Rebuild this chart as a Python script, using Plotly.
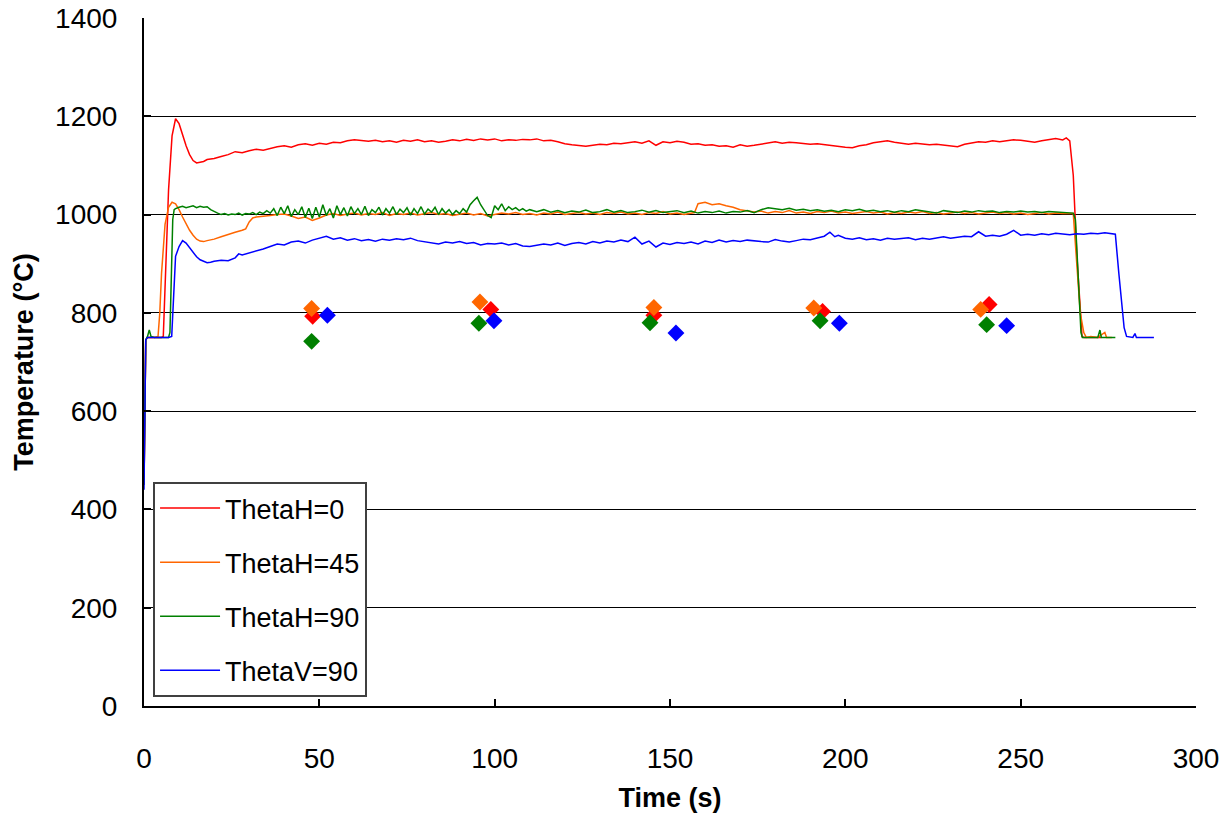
import plotly.graph_objects as go

# ---------------- data ----------------
red_t = [0, 0.5, 1, 3, 5, 5.5, 6, 7, 8, 9, 10, 11, 12, 13, 14, 15, 16, 17, 18, 20, 22, 24, 26, 28, 30,
         32, 34, 36, 38, 40, 42, 44, 46, 48, 50, 52, 54, 56, 58, 60, 62, 64, 66, 68, 70, 72, 74, 76, 78, 80,
         82, 84, 86, 88, 90, 92, 94, 96, 98, 100, 102, 104, 106, 108, 110, 112, 114, 116, 118, 120, 122, 124,
         126, 128, 130, 132, 134, 136, 138, 140, 142, 144, 146, 148, 150, 152, 154, 156, 158, 160, 162, 164,
         166, 168, 170, 172, 174, 176, 178, 180, 182, 184, 186, 188, 190, 192, 194, 196, 198, 200, 202, 204,
         206, 208, 210, 212, 214, 216, 218, 220, 222, 224, 226, 228, 230, 232, 234, 236, 238, 240, 242, 244,
         246, 248, 250, 252, 254, 256, 258, 260, 262, 263, 264, 265, 266, 267, 267.5, 268, 270, 273]
red_T = [450, 745, 750, 750, 750, 752, 850, 1050, 1160, 1195, 1185, 1160, 1140, 1122, 1110, 1105, 1106, 1108, 1112, 1114, 1118, 1122, 1128, 1126, 1130,
         1133, 1131, 1135, 1138, 1140, 1137, 1142, 1144, 1141, 1145, 1143, 1147, 1146, 1150, 1152, 1150, 1149, 1151, 1148, 1150, 1147, 1151, 1149, 1152, 1148,
         1150, 1147, 1149, 1152, 1150, 1153, 1151, 1154, 1152, 1154, 1150, 1152, 1151, 1153, 1152, 1154, 1150, 1151, 1148, 1144, 1142, 1140,
         1139, 1141, 1143, 1142, 1145, 1144, 1146, 1148, 1145, 1150, 1141, 1148, 1146, 1149, 1147, 1143, 1144, 1141, 1142, 1139,
         1140, 1137, 1142, 1139, 1141, 1143, 1145, 1148, 1145, 1147, 1146, 1145, 1143, 1144, 1142, 1140, 1138, 1137, 1136, 1140,
         1142, 1146, 1148, 1150, 1147, 1145, 1143, 1145, 1144, 1142, 1143, 1141, 1139, 1138, 1143, 1146, 1148, 1147, 1150, 1148,
         1150, 1152, 1151, 1149, 1147, 1150, 1153, 1155, 1152, 1156, 1150, 1080, 920, 790, 752, 750, 750, 750]

orange_t = [0, 0.5, 1, 3, 4, 4.5, 5, 6, 7, 8, 9, 10, 11, 12, 13, 14, 15, 16, 17, 18, 20, 22, 24, 26, 28, 29, 30, 31,
            32, 34, 36, 38, 40, 42, 44, 46, 48, 50, 52, 54, 56, 58, 60, 62, 64, 66, 68, 70, 72, 74, 76, 78, 80,
            82, 84, 86, 88, 90, 92, 94, 96, 98, 100, 102, 104, 106, 108, 110, 112, 114, 116, 118, 120, 122, 124,
            126, 128, 130, 132, 134, 136, 138, 140, 142, 144, 146, 148, 150, 152, 154, 156, 157, 158, 160, 162, 164,
            166, 168, 170, 172, 174, 176, 178, 180, 182, 184, 186, 188, 190, 192, 194, 196, 198, 200, 202, 204,
            206, 208, 210, 212, 214, 216, 218, 220, 222, 224, 226, 228, 230, 232, 234, 236, 238, 240, 242, 244,
            246, 248, 250, 252, 254, 256, 258, 260, 262, 264, 265, 266, 267, 268, 268.7, 270, 272, 274, 274.5, 276]
orange_T = [450, 745, 750, 750, 752, 800, 880, 980, 1015, 1025, 1022, 1010, 995, 980, 968, 958, 950, 946, 945, 947, 950, 955, 960, 964, 968, 971, 985, 993,
            995, 996, 998, 1000, 1001, 997, 992, 995, 988, 993, 999, 1002, 998, 1001, 1003, 999, 1002, 1000, 1004, 998, 1002, 1000, 1003, 999, 1001,
            1004, 1000, 1002, 998, 1001, 1003, 999, 1002, 997, 1000, 1003, 1001, 1004, 1000, 1002, 999, 1003, 1001, 1005, 1000, 1002, 1004,
            1001, 1003, 1000, 1004, 1002, 1005, 1001, 1003, 1000, 1004, 1002, 1006, 1001, 1003, 1000, 1002, 1004, 1022, 1025, 1020, 1022,
            1018, 1015, 1010, 1008, 1005, 1007, 1003, 1006, 1004, 1008, 1003, 1005, 1002, 1006, 1004, 1007, 1003, 1005, 1002, 1004,
            1006, 1003, 1005, 1001, 1004, 1002, 1005, 1003, 1006, 1002, 1004, 1001, 1003, 1005, 1002, 1004, 1001, 1003, 1005, 1002,
            1004, 1001, 1003, 1000, 1002, 1004, 1001, 1003, 1002, 1003, 1002, 900, 800, 760, 750, 752, 750, 760, 750, 750]

green_t = [0, 0.5, 1, 1.5, 2, 3, 5, 7, 7.4, 7.8, 8.2, 8.6, 9, 10, 11, 12, 13, 14, 15, 16, 17, 18, 19, 20, 21, 22, 23, 24,
           25, 26, 27, 28, 29, 30, 31, 32, 33, 34, 35, 36, 37, 38, 39, 40, 41, 42, 43, 44, 45, 46, 47, 48, 49, 50,
           51, 52, 53, 54, 55, 56, 57, 58, 59, 60, 61, 62, 63, 64, 65, 66, 67, 68, 69, 70, 71, 72, 73, 74, 75, 76,
           77, 78, 79, 80, 81, 82, 83, 84, 85, 86, 87, 88, 89, 90, 91, 92, 93, 94, 95, 96, 97, 98, 99, 100, 101, 102,
           103, 104, 105, 106, 107, 108, 109, 110, 112, 114, 116, 118, 120, 122, 124, 126, 128, 130, 132, 134, 136,
           138, 140, 142, 144, 146, 148, 150, 152, 154, 156, 158, 160, 162, 164, 166, 168, 170, 172, 174, 176, 178,
           180, 182, 184, 186, 188, 190, 192, 194, 196, 198, 200, 202, 204, 206, 208, 210, 212, 214, 216, 218, 220,
           222, 224, 226, 228, 230, 232, 234, 236, 238, 240, 242, 244, 246, 248, 250, 252, 254, 256, 258, 260, 262,
           264, 265, 265.6, 266.5, 267.2, 267.6, 270, 272, 272.6, 273, 277]
green_T = [450, 745, 752, 765, 752, 750, 750, 750, 760, 900, 990, 1010, 1012, 1015, 1017, 1014, 1016, 1018, 1014, 1017, 1015, 1016, 1010, 1006, 1003, 1000, 1002, 999,
           1001, 1000, 1003, 999, 1002, 1001, 1004, 1000, 1005, 1002, 1008, 1003, 1012, 998, 1015, 1002, 1018, 996, 1010, 1000, 1016, 994, 1013, 992, 1015, 995,
           1020, 998, 1012, 993, 1018, 1000, 1014, 997, 1016, 1002, 1012, 1000, 1017, 998, 1010, 1004, 1015, 999, 1012, 1003, 1016, 1000, 1011, 1004, 1014, 999,
           1012, 1002, 1016, 1001, 1011, 1005, 1015, 1000, 1012, 1003, 1010, 1000, 1008, 1002, 1012, 1005, 1020, 1028, 1035, 1020, 1010, 998, 994, 1018, 1010, 1022,
           1008, 1016, 1010, 1014, 1008, 1012, 1007, 1010, 1006, 1010, 1005, 1008, 1004, 1007, 1005, 1009, 1004, 1006, 1010, 1005, 1008,
           1004, 1006, 1009, 1005, 1008, 1004, 1006, 1008, 1004, 1007, 1003, 1006, 1004, 1007, 1003, 1006, 1005, 1008, 1004, 1010, 1014,
           1012, 1010, 1013, 1009, 1011, 1008, 1010, 1007, 1009, 1006, 1010, 1008, 1011, 1007, 1009, 1006, 1008, 1005, 1008, 1006, 1010,
           1008, 1006, 1003, 1008, 1006, 1004, 1007, 1005, 1008, 1006, 1007, 1004, 1006, 1005, 1007, 1005, 1006, 1004, 1006, 1005, 1005,
           1004, 1003, 990, 850, 760, 750, 750, 750, 765, 750, 750]

blue_t = [0, 0.5, 1, 3, 5, 7, 7.9, 8.5, 9, 10, 11, 12, 13, 14, 15, 16, 17, 18, 19, 20, 22, 24, 26, 27, 28, 30,
          32, 34, 36, 38, 40, 42, 44, 46, 48, 50, 52, 54, 56, 58, 60, 62, 64, 66, 68, 70, 72, 74, 76, 78, 80,
          82, 84, 86, 88, 90, 92, 94, 96, 98, 100, 102, 104, 106, 108, 110, 112, 114, 116, 118, 120, 122, 124,
          126, 128, 130, 132, 134, 136, 138, 140, 142, 144, 146, 148, 150, 152, 154, 156, 158, 160, 162, 164,
          166, 168, 170, 172, 174, 176, 178, 180, 182, 184, 186, 188, 190, 192, 194, 195.6, 197, 198, 200, 202, 204,
          206, 208, 210, 212, 214, 216, 218, 220, 222, 224, 226, 228, 230, 232, 234, 236, 238, 240, 242, 244,
          246, 248, 250, 252, 254, 256, 258, 260, 262, 264, 266, 268, 270, 272, 274, 276, 277, 278, 279.5, 280.2,
          282, 282.6, 283, 288]
blue_T = [440, 745, 750, 750, 750, 750, 752, 860, 915, 935, 947, 942, 932, 922, 914, 908, 905, 902, 903, 905, 907, 906, 912, 920, 918, 922,
          925, 930, 935, 940, 938, 944, 946, 942, 948, 952, 956, 950, 953, 948, 951, 947, 949, 946, 950, 948, 951, 949, 952, 947, 945,
          942, 940, 944, 942, 945, 941, 943, 938, 941, 940, 942, 938, 941, 936, 935, 937, 940, 938, 942, 937, 941, 943,
          940, 945, 942, 946, 944, 948, 945, 954, 940, 946, 934, 942, 939, 943, 941, 944, 940, 946, 943, 948,
          944, 947, 945, 948, 946, 945, 944, 949, 946, 944, 947, 950, 949, 952, 956, 964, 955, 958, 952, 950, 953,
          949, 951, 948, 952, 950, 951, 953, 949, 952, 950, 953, 955, 952, 954, 956, 955, 965, 956, 958, 956,
          960, 968, 958, 960, 958, 961, 959, 962, 960, 959, 961, 960, 962, 961, 963, 962, 960, 880, 770, 752,
          750, 758, 750, 750]

# point measurements (diamonds)
red_mk_t = [48.1, 98.9, 145.4, 193.5, 241.0]
red_mk_T = [793, 807, 795, 803, 817]
orange_mk_t = [47.8, 95.8, 145.4, 191.0, 238.6]
orange_mk_T = [809, 822, 811, 810, 807]
green_mk_t = [47.8, 95.5, 144.3, 192.8, 240.3]
green_mk_T = [742, 779, 780, 784, 776]
blue_mk_t = [52.3, 99.8, 151.7, 198.3, 246.0]
blue_mk_T = [795, 784, 759, 779, 774]

names = ["ThetaH=0", "ThetaH=45", "ThetaH=90", "ThetaV=90"]
colors = ["#FF0000", "#FF6600", "#008000", "#0000FF"]

x_ticks = [0, 50, 100, 150, 200, 250, 300]
y_ticks = [0, 200, 400, 600, 800, 1000, 1200, 1400]

# ---------------- figure ----------------
FONT = "Liberation Sans, Arial, sans-serif"
fig = go.Figure()

lines = [(red_t, red_T), (orange_t, orange_T), (green_t, green_T), (blue_t, blue_T)]
for (tt, vv), nm, c in zip(lines, names, colors):
    fig.add_trace(go.Scatter(x=tt, y=vv, mode="lines", name=nm, legendgroup=nm,
                             line=dict(color=c, width=1.5)))

marks = [(red_mk_t, red_mk_T), (orange_mk_t, orange_mk_T), (green_mk_t, green_mk_T), (blue_mk_t, blue_mk_T)]
for (tt, vv), nm, c in zip(marks, names, colors):
    fig.add_trace(go.Scatter(x=tt, y=vv, mode="markers", showlegend=False, legendgroup=nm,
                             marker=dict(symbol="diamond", size=13, color=c, line=dict(width=0))))

fig.update_layout(
    width=1228, height=813,
    margin=dict(l=144, r=32, t=18, b=107, autoexpand=False),
    paper_bgcolor="white", plot_bgcolor="white",
    font=dict(family=FONT, size=28, color="black"),
    showlegend=True,
    legend=dict(x=0.0086, y=0.3256, xanchor="left", yanchor="top",
                bgcolor="white", bordercolor="#404040", borderwidth=2,
                font=dict(family=FONT, size=27, color="black"),
                tracegroupgap=16, itemwidth=60),
)
fig.update_xaxes(range=[0, 300], tickvals=x_ticks, ticktext=[str(v) for v in x_ticks],
                 showgrid=False, zeroline=False, automargin=False,
                 showline=True, linecolor="black", linewidth=2,
                 ticks="inside", ticklen=7, tickwidth=2, tickcolor="black",
                 ticklabelstandoff=26,
                 title=dict(text="<b>Time (s)</b>", font=dict(family=FONT, size=27), standoff=18))
fig.update_yaxes(range=[0, 1400], tickvals=y_ticks, ticktext=[str(v) for v in y_ticks],
                 showgrid=True, gridcolor="black", gridwidth=1, zeroline=False, automargin=False,
                 showline=True, linecolor="black", linewidth=2,
                 ticks="inside", ticklen=7, tickwidth=2, tickcolor="black",
                 ticklabelstandoff=19,
                 title=dict(text="<b>Temperature (°C)</b>", font=dict(family=FONT, size=27), standoff=14))

fig.write_html("out.html")
